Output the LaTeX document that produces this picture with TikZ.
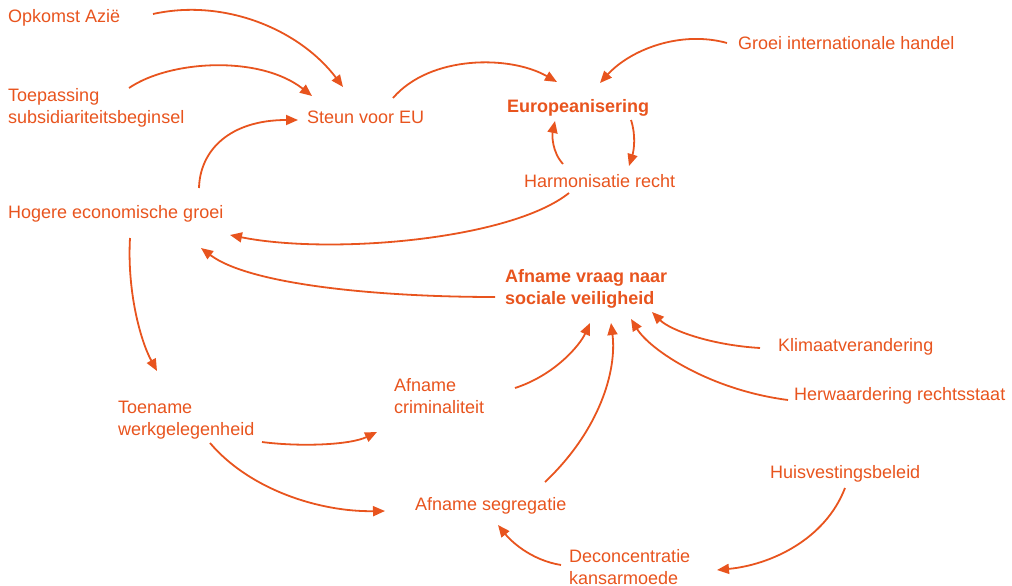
\documentclass[tikz,border=0pt]{standalone}
\usepackage{fontspec}
\setmainfont{Liberation Sans}
\usetikzlibrary{arrows.meta}
\definecolor{ora}{RGB}{232,84,30}
\tikzset{
  lbl/.style={anchor=base west, inner sep=0pt, text=ora, align=left, font=\fontsize{18}{22}\selectfont},
  blbl/.style={lbl, font=\fontsize{18}{22}\selectfont\bfseries},
  arr/.style={draw=ora, line width=1.8pt, -{Triangle[length=12pt,width=10pt]}}
}
\begin{document}
\begin{tikzpicture}[x=1pt,y=-1pt]
\useasboundingbox (0,0) rectangle (1012,586);
% nodes (multi-line nodes: base = baseline of last line)
\node[lbl] (opk) at (8,23) {Opkomst Azië};
\node[lbl] (toep) at (8,123) {Toepassing\\subsidiariteitsbeginsel};
\node[lbl] (steun) at (307,123) {Steun voor EU};
\node[blbl] (europ) at (507,112) {Europeanisering};
\node[lbl] (groei) at (738,50) {Groei internationale handel};
\node[lbl] (harm) at (524,187) {Harmonisatie recht};
\node[lbl] (hog) at (8,218) {Hogere economische groei};
\node[blbl] (vraag) at (505,304) {Afname vraag naar\\sociale veiligheid};
\node[lbl] (klim) at (778,351) {Klimaatverandering};
\node[lbl] (herw) at (794,400) {Herwaardering rechtsstaat};
\node[lbl] (crim) at (394,413) {Afname\\criminaliteit};
\node[lbl] (toen) at (118,435) {Toename\\werkgelegenheid};
\node[lbl] (huis) at (770,478) {Huisvestingsbeleid};
\node[lbl] (segr) at (415,510) {Afname segregatie};
\node[lbl] (dec) at (569,584) {Deconcentratie\\kansarmoede};
% connectors (shifts relative to base west of the node)
\draw[arr] ([shift={(145,-9)}]opk.base west) .. controls (225,-2) and (300,30) .. ([shift={(36,-36)}]steun.base west);
\draw[arr] ([shift={(121,-35)}]toep.base west) .. controls (170,60) and (260,55) .. ([shift={(5,-27)}]steun.base west);
\draw[arr] ([shift={(191,-30)}]hog.base west) .. controls (200,150) and (230,120) .. ([shift={(-9,-3)}]steun.base west);
\draw[arr] ([shift={(86,-25)}]steun.base west) .. controls (430,55) and (510,55) .. ([shift={(50,-30)}]europ.base west);
\draw[arr] ([shift={(-11,-7)}]groei.base west) .. controls (680,30) and (630,50) .. ([shift={(93,-29)}]europ.base west);
\draw[arr] ([shift={(124,8)}]europ.base west) .. controls (636,135) and (634,150) .. ([shift={(105,-21)}]harm.base west);
\draw[arr] ([shift={(39,-23)}]harm.base west) .. controls (552,152) and (552,135) .. ([shift={(48,9)}]europ.base west);
\draw[arr] ([shift={(45,6)}]harm.base west) .. controls (510,240) and (330,255) .. ([shift={(222,17)}]hog.base west);
\draw[arr] ([shift={(-10,-7)}]vraag.base west) .. controls (380,297) and (250,285) .. ([shift={(193,30)}]hog.base west);
\draw[arr] ([shift={(122,20)}]hog.base west) .. controls (127,290) and (140,340) .. ([shift={(39,-64)}]toen.base west);
\draw[arr] ([shift={(144,7)}]toen.base west) .. controls (300,447) and (350,445) .. ([shift={(-17,19)}]crim.base west);
\draw[arr] ([shift={(92,8)}]toen.base west) .. controls (250,490) and (320,512) .. ([shift={(-30,1)}]segr.base west);
\draw[arr] ([shift={(121,-25)}]crim.base west) .. controls (555,375) and (580,345) .. ([shift={(85,19)}]vraag.base west);
\draw[arr] ([shift={(130,-28)}]segr.base west) .. controls (600,430) and (617,370) .. ([shift={(106,19)}]vraag.base west);
\draw[arr] ([shift={(-18,-3)}]klim.base west) .. controls (710,345) and (670,330) .. ([shift={(147,8)}]vraag.base west);
\draw[arr] ([shift={(-6,0)}]herw.base west) .. controls (710,390) and (650,350) .. ([shift={(126,15)}]vraag.base west);
\draw[arr] ([shift={(75,10)}]huis.base west) .. controls (825,540) and (770,565) .. ([shift={(148,-14)}]dec.base west);
\draw[arr] ([shift={(-8,-19)}]dec.base west) .. controls (530,560) and (510,540) .. ([shift={(83,15)}]segr.base west);
\end{tikzpicture}
\end{document}
